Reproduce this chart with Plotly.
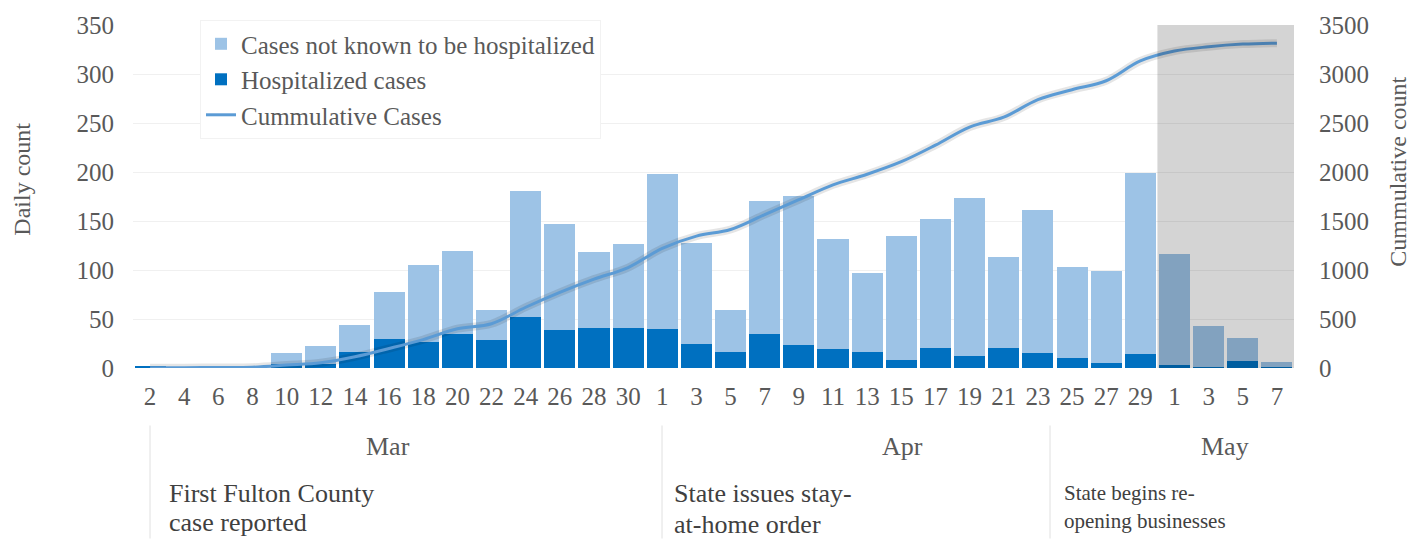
import plotly.graph_objects as go

dates = ["2020-03-02","2020-03-04","2020-03-06","2020-03-08","2020-03-10","2020-03-12",
         "2020-03-14","2020-03-16","2020-03-18","2020-03-20","2020-03-22","2020-03-24",
         "2020-03-26","2020-03-28","2020-03-30","2020-04-01","2020-04-03","2020-04-05",
         "2020-04-07","2020-04-09","2020-04-11","2020-04-13","2020-04-15","2020-04-17",
         "2020-04-19","2020-04-21","2020-04-23","2020-04-25","2020-04-27","2020-04-29",
         "2020-05-01","2020-05-03","2020-05-05","2020-05-07"]
tick_labels = ["2","4","6","8","10","12","14","16","18","20","22","24","26","28","30",
               "1","3","5","7","9","11","13","15","17","19","21","23","25","27","29",
               "1","3","5","7"]
hospitalized = [2,0,0,0,4,4,16,30,27,35,29,52,39,41,41,40,24,16,35,23,19,16,8,20,12,20,
                15,10,5,14,3,1,7,1]
not_hospitalized = [0,0,0,0,11,18,28,48,78,84,30,129,108,77,86,158,104,43,135,153,113,81,
                    127,132,161,93,146,93,94,185,113,42,24,5]
cumulative = [2,3,5,8,30,54,115,199,290,401,452,620,772,907,1025,1221,1346,1413,1565,1717,
              1869,1977,2105,2274,2459,2560,2739,2840,2931,3133,3234,3278,3305,3315]
months = ["Mar","Apr","May"]
events = [["First Fulton County", "case reported"],
          ["State issues stay-", "at-home order"],
          ["State begins re-", "opening businesses"]]

FONT = "Liberation Serif"
GRAY = "#595959"

fig = go.Figure()
fig.add_trace(go.Bar(x=dates, y=hospitalized, name="Hospitalized cases",
                     marker=dict(color="#0070C0", line=dict(width=0)), legendrank=2))
fig.add_trace(go.Bar(x=dates, y=not_hospitalized, name="Cases not known to be hospitalized",
                     marker=dict(color="#9DC3E6", line=dict(width=0)), legendrank=1))
fig.add_trace(go.Scatter(x=dates, y=cumulative, yaxis="y2", mode="lines", showlegend=False,
                         line=dict(color="rgba(0,0,0,0.10)", width=8, shape="spline", smoothing=1),
                         hoverinfo="skip"))
fig.add_trace(go.Scatter(x=dates, y=cumulative, yaxis="y2", mode="lines", name="Cummulative Cases",
                         line=dict(color="#5B9BD5", width=3, shape="spline", smoothing=1),
                         legendrank=3))

L, R, T, B = 133, 128, 22, 172
W, H = 1422, 540
pw, ph = W - L - R, H - T - B
def px(x): return (x - L) / pw
def py(y): return (H - B - y) / ph

fig.update_layout(
    width=W, height=H, margin=dict(l=L, r=R, t=T, b=B),
    barmode="stack", bargap=0.09,
    plot_bgcolor="white", paper_bgcolor="white",
    font=dict(family=FONT, size=25, color=GRAY),
    xaxis=dict(type="date", range=["2020-03-01", "2020-05-08"], tickvals=dates,
               ticktext=tick_labels, showgrid=False, zeroline=False, showline=False,
               ticks="", ticklabelstandoff=11, tickfont=dict(size=25, color=GRAY)),
    yaxis=dict(range=[0, 350], tickvals=[0,50,100,150,200,250,300,350], showgrid=True,
               gridcolor="#F0F0F0", gridwidth=1, zeroline=False, showline=False,
               ticklabelstandoff=18, tickfont=dict(size=25, color=GRAY)),
    yaxis2=dict(range=[0, 3500], tickvals=[0,500,1000,1500,2000,2500,3000,3500],
                overlaying="y", side="right", showgrid=False, zeroline=False,
                ticklabelstandoff=24, tickfont=dict(size=25, color=GRAY)),
    legend=dict(x=px(200), y=py(17), xanchor="left", yanchor="top", bgcolor="white",
                bordercolor="#F2F2F2", borderwidth=1, tracegroupgap=0,
                font=dict(size=25, color=GRAY), traceorder="normal"),
    showlegend=True,
)

fig.add_shape(type="rect", xref="x", yref="paper", x0="2020-04-30", x1="2020-05-08",
              y0=0, y1=1, fillcolor="rgba(0,0,0,0.17)", line=dict(width=0), layer="above")

for xp in [150, 662, 1050]:
    fig.add_shape(type="line", xref="paper", yref="paper", x0=px(xp), x1=px(xp),
                  y0=py(426), y1=py(540), line=dict(color="#E0E0E0", width=1))

for m, xp in zip(months, [388, 902, 1225]):
    fig.add_annotation(text=m, xref="paper", yref="paper", x=px(xp), y=py(447),
                       showarrow=False, xanchor="center", yanchor="middle",
                       font=dict(size=26, color=GRAY))

for ev, xp, ys, sz in zip(events, [167, 672, 1062], [(495, 524), (495, 526), (494, 522)],
                          [26, 26, 21]):
    for line_text, yp in zip(ev, ys):
        fig.add_annotation(text=line_text, xref="paper", yref="paper", x=px(xp), y=py(yp),
                           showarrow=False, xanchor="left", yanchor="middle", align="left",
                           font=dict(size=sz, color="#404040"))

fig.add_annotation(text="Daily count", xref="paper", yref="paper", x=px(22), y=py(178),
                   textangle=-90, showarrow=False, xanchor="center", yanchor="middle",
                   font=dict(size=24, color=GRAY))
fig.add_annotation(text="Cummulative count", xref="paper", yref="paper", x=px(1398), y=py(170),
                   textangle=-90, showarrow=False, xanchor="center", yanchor="middle",
                   font=dict(size=24, color=GRAY))

fig.write_html("out.html", config={"displayModeBar": False},
               post_script="document.body.style.margin='0';")
